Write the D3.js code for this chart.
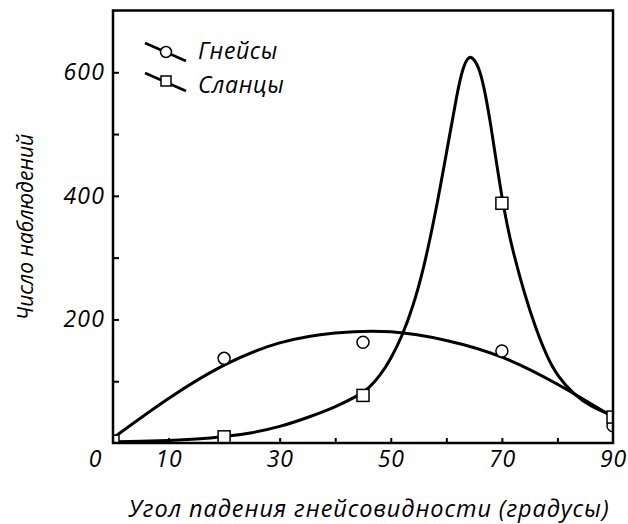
<!DOCTYPE html>
<html>
<head>
<meta charset="utf-8">
<script src="https://cdn.jsdelivr.net/npm/d3@7"></script>
<style>
  body { margin: 0; background: #fff; }
  text { font-family: "Open Sans", sans-serif; font-style: italic; fill: #000; }
</style>
</head>
<body>
<div id="chart"></div>
<script>
// Observed points
var gneissX = [20, 45, 70, 90];
var gneissY = [137, 163, 149, 28];
var slateX = [0, 20, 45, 70, 90];
var slateY = [3, 10, 77, 388, 42];

// Fitted curves
var gneissCurveX = [0, 10, 20, 30, 40, 50, 60, 70, 80, 90];
var gneissCurveY = [8, 72, 126, 162, 178, 180, 166, 139, 95, 42];
var slateCurveX = [0, 5, 10, 15, 20, 25, 30, 35, 40, 44, 46, 48, 50, 52, 54, 56, 58, 60, 62, 63, 64, 65, 66, 67, 68, 69, 70, 71, 72, 74, 76, 78, 80, 83, 86, 90];
var slateCurveY = [2, 3, 4, 6, 10, 16, 26, 41, 58, 76, 88, 108, 136, 172, 220, 285, 370, 468, 570, 608, 627, 622, 605, 567, 515, 455, 398, 350, 310, 243, 188, 142, 108, 78, 59, 44];

// Tick labels
var xLabels = [10, 30, 50, 70, 90];
var yLabels = [200, 400, 600];
var xTicks = [10, 20, 30, 40, 50, 60, 70, 80];
var yTicks = [100, 200, 300, 400, 500, 600];

var svgWidth = 628;
var svgHeight = 524;

var svg = d3.select("#chart")
  .append("svg")
  .attr("width", svgWidth)
  .attr("height", svgHeight);

var x = d3.scaleLinear().domain([0, 90]).range([113, 613]);
var y = d3.scaleLinear().domain([0, 700]).range([443, 10.5]);

svg.append("clipPath")
  .attr("id", "plot")
  .append("rect")
  .attr("x", x(0)).attr("y", y(700))
  .attr("width", x(90) - x(0)).attr("height", y(0) - y(700));

// inner ticks
svg.append("g")
  .attr("transform", `translate(0, ${y(0)})`)
  .call(d3.axisTop(x).tickValues(xTicks).tickSize(5).tickFormat(""))
  .call(g => g.select(".domain").remove())
  .selectAll("line").attr("stroke-width", 2);

svg.append("g")
  .attr("transform", `translate(${x(0)}, 0)`)
  .call(d3.axisRight(y).tickValues(yTicks).tickSize(6).tickFormat(""))
  .call(g => g.select(".domain").remove())
  .selectAll("line").attr("stroke-width", 2);

// tick labels
svg.append("g")
  .attr("transform", `translate(0, ${y(0)})`)
  .call(d3.axisBottom(x).tickValues(xLabels).tickSize(0).tickPadding(8))
  .call(g => g.select(".domain").remove())
  .selectAll("text")
  .attr("font-size", 23)
  .attr("letter-spacing", 0.8)
  .style("font-family", "'Open Sans', sans-serif");

svg.append("g")
  .attr("transform", `translate(${x(0) - 6}, 0)`)
  .call(d3.axisLeft(y).tickValues(yLabels).tickSize(0).tickPadding(2))
  .call(g => g.select(".domain").remove())
  .selectAll("text")
  .attr("font-size", 23)
  .attr("letter-spacing", 1.2)
  .style("font-family", "'Open Sans', sans-serif");

svg.append("text")
  .attr("x", x(0) - 18)
  .attr("y", y(0) + 24)
  .attr("text-anchor", "middle")
  .attr("font-size", 23)
  .text("0");

var naturalLine = d3.line()
  .x(d => x(d[0]))
  .y(d => y(d[1]))
  .curve(d3.curveNatural);

var basisLine = d3.line()
  .x(d => x(d[0]))
  .y(d => y(d[1]))
  .curve(d3.curveBasis);

var plot = svg.append("g").attr("clip-path", "url(#plot)");

plot.append("path")
  .datum(d3.zip(gneissCurveX, gneissCurveY))
  .attr("d", naturalLine)
  .attr("fill", "none")
  .attr("stroke", "#000")
  .attr("stroke-width", 3);

plot.append("path")
  .datum(d3.zip(slateCurveX, slateCurveY))
  .attr("d", basisLine)
  .attr("fill", "none")
  .attr("stroke", "#000")
  .attr("stroke-width", 3);

plot.selectAll(".g")
  .data(d3.zip(gneissX, gneissY))
  .enter()
  .append("circle")
  .attr("cx", d => x(d[0]))
  .attr("cy", d => y(d[1]))
  .attr("r", 6)
  .attr("fill", "#fff")
  .attr("stroke", "#000")
  .attr("stroke-width", 1.5);

plot.selectAll(".s")
  .data(d3.zip(slateX, slateY))
  .enter()
  .append("rect")
  .attr("x", d => x(d[0]) - 6)
  .attr("y", d => y(d[1]) - 6)
  .attr("width", 12)
  .attr("height", 12)
  .attr("fill", "#fff")
  .attr("stroke", "#000")
  .attr("stroke-width", 1.5);

// frame
svg.append("rect")
  .attr("x", x(0)).attr("y", y(700))
  .attr("width", x(90) - x(0)).attr("height", y(0) - y(700))
  .attr("fill", "none")
  .attr("stroke", "#000")
  .attr("stroke-width", 2.5);

// legend
var legend = svg.append("g");
legend.append("line")
  .attr("x1", 145).attr("y1", 43).attr("x2", 186).attr("y2", 61)
  .attr("stroke", "#000").attr("stroke-width", 2.5);
legend.append("circle")
  .attr("cx", 166).attr("cy", 52).attr("r", 5.5)
  .attr("fill", "#fff").attr("stroke", "#000").attr("stroke-width", 1.5);
legend.append("text")
  .attr("x", 198).attr("y", 59).attr("font-size", 23)
  .attr("letter-spacing", 0.6).text("Гнейсы");

legend.append("line")
  .attr("x1", 145).attr("y1", 73).attr("x2", 186).attr("y2", 91)
  .attr("stroke", "#000").attr("stroke-width", 2.5);
legend.append("rect")
  .attr("x", 161).attr("y", 76).attr("width", 10).attr("height", 10)
  .attr("fill", "#fff").attr("stroke", "#000").attr("stroke-width", 1.5);
legend.append("text")
  .attr("x", 198).attr("y", 93).attr("font-size", 23)
  .attr("letter-spacing", 0.6).text("Сланцы");

// axis titles
svg.append("text")
  .attr("x", 369)
  .attr("y", 517)
  .attr("text-anchor", "middle")
  .attr("font-size", 23.5)
  .attr("letter-spacing", 0.9)
  .text("Угол падения гнейсовидности (градусы)");

svg.append("text")
  .attr("transform", "translate(33, 227) rotate(-90)")
  .attr("text-anchor", "middle")
  .attr("font-size", 21)
  .text("Число наблюдений");
</script>
</body>
</html>
